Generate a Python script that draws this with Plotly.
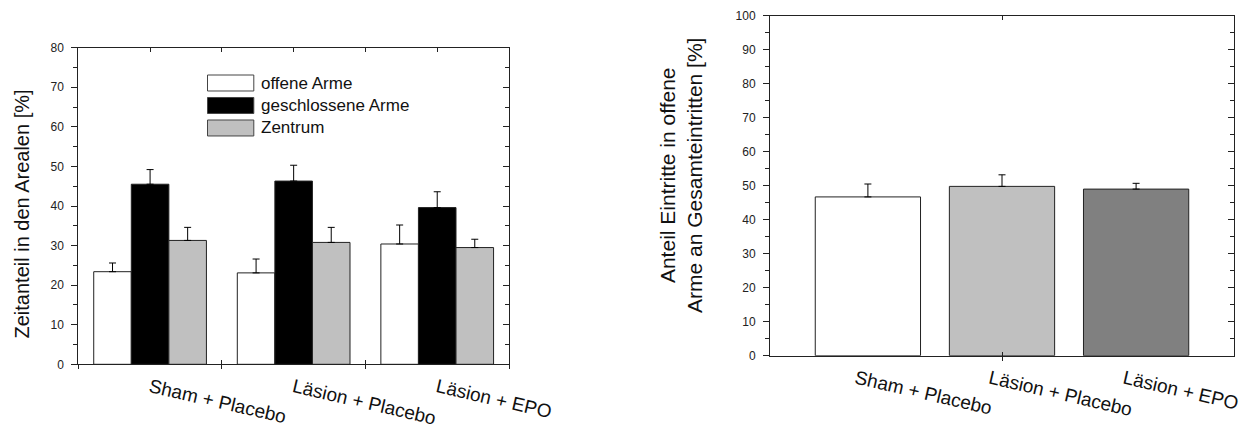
import plotly.graph_objects as go

# ---------------- data ----------------
groups = ["Sham + Placebo", "Läsion + Placebo", "Läsion + EPO"]
series_names = ["offene Arme", "geschlossene Arme", "Zentrum"]
time_open = [23.4, 23.1, 30.4]
time_open_err = [2.2, 3.5, 4.8]
time_closed = [45.5, 46.3, 39.6]
time_closed_err = [3.7, 4.0, 4.0]
time_center = [31.3, 30.8, 29.5]
time_center_err = [3.3, 3.8, 2.1]

entries_open = [46.7, 49.8, 49.0]
entries_open_err = [3.8, 3.4, 1.7]

left_colors = ["#ffffff", "#000000", "#c0c0c0"]
right_colors = ["#ffffff", "#c0c0c0", "#808080"]

FONT = "Arial, Liberation Sans, sans-serif"
AX = "#222222"

fig = go.Figure()

left_vals = [time_open, time_closed, time_center]
left_errs = [time_open_err, time_closed_err, time_center_err]
for name, vals, errs, col in zip(series_names, left_vals, left_errs, left_colors):
    fig.add_trace(go.Bar(
        x=groups, y=vals, name=name, xaxis="x", yaxis="y",
        marker=dict(color=col, line=dict(color=AX, width=1)),
        error_y=dict(type="data", symmetric=False, array=errs,
                     arrayminus=[0] * len(errs), color="black",
                     thickness=1, width=3.5),
        showlegend=False,
    ))

fig.add_trace(go.Bar(
    x=groups, y=entries_open, xaxis="x2", yaxis="y2",
    marker=dict(color=right_colors, line=dict(color=AX, width=1)),
    error_y=dict(type="data", symmetric=False, array=entries_open_err,
                 arrayminus=[0] * len(entries_open_err), color="black",
                 thickness=1, width=3.5),
    showlegend=False,
))

# dummy traces for decorative overlay axes
for xa, ya in [("x3", "y"), ("x4", "y"), ("x5", "y"), ("x", "y3"),
               ("x6", "y2"), ("x7", "y2"), ("x8", "y2"), ("x2", "y4")]:
    fig.add_trace(go.Scatter(x=[], y=[], xaxis=xa, yaxis=ya,
                             showlegend=False, hoverinfo="skip"))

W, H = 1255, 429
L_dom_x = [78.3 / W, 509.0 / W]
L_dom_y = [(H - 364.3) / H, (H - 47.7) / H]
R_dom_x = [770.0 / W, 1234.0 / W]
R_dom_y = [(H - 355.7) / H, (H - 15.7) / H]

L_range = [-0.5, 2.5]
R_range = [-0.73, 2.73]

tickfont = dict(family=FONT, size=12, color="#222")
catfont = dict(family=FONT, size=19, color="#111")


def deco_x(domain, rng, anchor, side, tickvals, ticks, showline):
    return dict(domain=domain, range=rng, anchor=anchor, overlaying=None,
                side=side, type="linear", tickvals=tickvals, ticks=ticks,
                ticklen=4, tickwidth=1, tickcolor=AX, showticklabels=False,
                showline=showline, linecolor=AX, linewidth=1,
                showgrid=False, zeroline=False, fixedrange=True)


def main_x(domain, rng, anchor, shift):
    return dict(domain=domain, range=rng, anchor=anchor, type="category",
                ticks="", tickangle=13, tickfont=catfont,
                ticklabelstandoff=4, ticklabelshift=shift,
                showline=True, linecolor=AX, linewidth=1,
                showgrid=False, zeroline=False, fixedrange=True)


def main_y(domain, rng, anchor, dtick):
    return dict(domain=domain, range=rng, anchor=anchor, dtick=dtick,
                ticks="outside", ticklen=6, tickwidth=1, tickcolor=AX,
                minor=dict(dtick=dtick / 2, ticks="outside", ticklen=4,
                           tickcolor=AX, tickwidth=1),
                tickfont=tickfont, ticklabelstandoff=5,
                showline=True, linecolor=AX, linewidth=1,
                showgrid=False, zeroline=False, fixedrange=True)


def right_y(domain, rng, anchor, overlay, dtick):
    return dict(domain=domain, range=rng, anchor=anchor, overlaying=overlay,
                side="right", dtick=dtick, ticks="inside", ticklen=6,
                tickwidth=1, tickcolor=AX,
                minor=dict(dtick=dtick / 2, ticks="inside", ticklen=4,
                           tickcolor=AX, tickwidth=1),
                showticklabels=False, showline=True, linecolor=AX,
                linewidth=1, showgrid=False, zeroline=False, fixedrange=True)


layout = dict(
    width=W, height=H,
    margin=dict(l=0, r=0, t=0, b=0, autoexpand=False),
    paper_bgcolor="white", plot_bgcolor="rgba(0,0,0,0)",
    barmode="group", bargap=0.215, bargroupgap=0,
    font=dict(family=FONT, color="#111"),
    showlegend=False,
    xaxis=main_x(L_dom_x, L_range, "y", 0),
    yaxis=main_y(L_dom_y, [0, 80], "x", 10),
    xaxis2=main_x(R_dom_x, R_range, "y2", -12),
    yaxis2=main_y(R_dom_y, [0, 100], "x2", 10),
    yaxis3=right_y(L_dom_y, [0, 80], "x", "y", 10),
    yaxis4=right_y(R_dom_y, [0, 100], "x2", "y2", 10),
)

# left plot decorative x axes
x3 = deco_x(L_dom_x, L_range, "y", "bottom", [-0.5, 0.5, 1.5, 2.5], "outside", False)
x3["overlaying"] = "x"
x4 = deco_x(L_dom_x, L_range, "y", "top", [-0.5, 0, 0.5, 1, 1.5, 2, 2.5], "inside", True)
x4["overlaying"] = "x"
x5 = deco_x(L_dom_x, L_range, "y", "bottom", [0.5, 1.5], "inside", False)
x5["overlaying"] = "x"
# right plot decorative x axes
x6 = deco_x(R_dom_x, R_range, "y2", "bottom", [1], "outside", False)
x6["overlaying"] = "x2"
x7 = deco_x(R_dom_x, R_range, "y2", "top", [1], "inside", True)
x7["overlaying"] = "x2"
x8 = deco_x(R_dom_x, R_range, "y2", "bottom", [1], "inside", False)
x8["overlaying"] = "x2"
layout.update(xaxis3=x3, xaxis4=x4, xaxis5=x5, xaxis6=x6, xaxis7=x7, xaxis8=x8)

fig.update_layout(**layout)

# manual legend (left plot)
leg_x0, leg_x1, leg_tx = 0.300, 0.4075, 0.4195
leg_rows = [0.8885, 0.8175, 0.7464]
box_h = 0.0505
for name, col, yc in zip(series_names, left_colors, leg_rows):
    fig.add_shape(type="rect", xref="x domain", yref="y domain",
                  x0=leg_x0, x1=leg_x1, y0=yc - box_h / 2, y1=yc + box_h / 2,
                  fillcolor=col, line=dict(color="#444", width=1))
    fig.add_annotation(text=name, xref="x domain", yref="y domain",
                       x=leg_tx, y=yc, xanchor="left", yanchor="middle",
                       showarrow=False, font=dict(family=FONT, size=17, color="#111"))

# axis titles
fig.add_annotation(text="Zeitanteil in den Arealen [%]", xref="paper", yref="paper",
                   x=21.5 / W, y=(H - 214) / H, textangle=-90, showarrow=False,
                   xanchor="center", yanchor="middle",
                   font=dict(family=FONT, size=20, color="#111"))
fig.add_annotation(text="Anteil Eintritte in offene<br>Arme an Gesamteintritten [%]",
                   xref="paper", yref="paper",
                   x=681 / W, y=(H - 176) / H, textangle=-90, showarrow=False,
                   xanchor="center", yanchor="middle", align="center",
                   font=dict(family=FONT, size=21, color="#111"))

fig.write_html("out.html")
